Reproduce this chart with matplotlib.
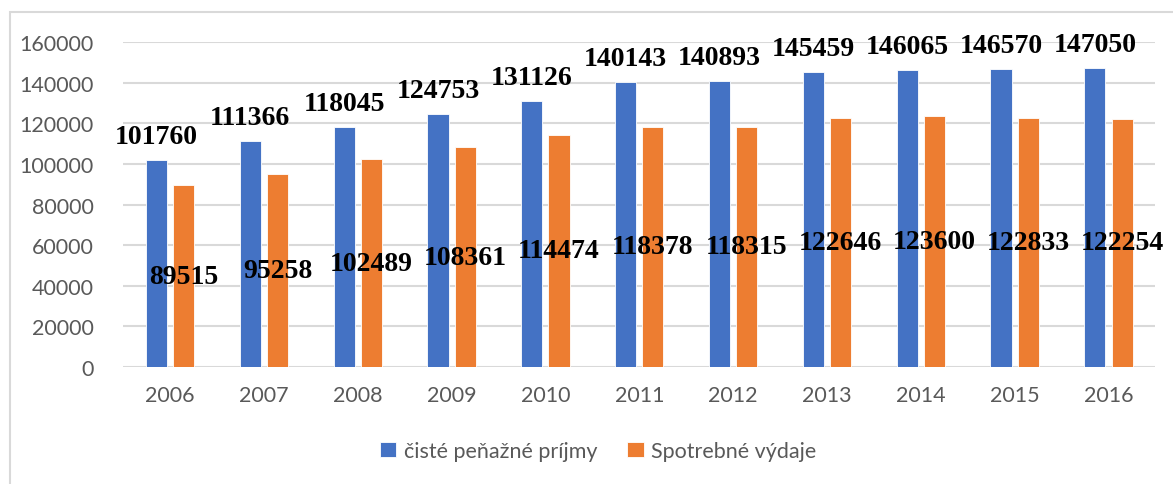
import numpy as np
import matplotlib.pyplot as plt
from matplotlib.patches import Rectangle

roky = ['2006', '2007', '2008', '2009', '2010', '2011', '2012', '2013', '2014', '2015', '2016']
prijmy = [101760, 111366, 118045, 124753, 131126, 140143, 140893, 145459, 146065, 146570, 147050]
vydaje = [89515, 95258, 102489, 108361, 114474, 118378, 118315, 122646, 123600, 122833, 122254]
yticky = [0, 20000, 40000, 60000, 80000, 100000, 120000, 140000, 160000]

modra = '#4472C4'
oranzova = '#ED7D31'
seda = '#595959'

fig = plt.figure(figsize=(11.73, 4.85), dpi=100)
ax = fig.add_axes([0.105, 0.241, 0.88, 0.670])

# ramik okolo grafu
fig.patches.append(Rectangle((10 / 1173, -0.05), 1.2, 1 - 13 / 485 + 0.05,
                             transform=fig.transFigure, fill=False,
                             edgecolor='#D9D9D9', linewidth=1.5))

x = np.arange(len(roky))
w = 0.225
b1 = ax.bar(x - 0.145, prijmy, w, color=modra, edgecolor='white', linewidth=0.6,
            label='čisté peňažné príjmy', zorder=3)
b2 = ax.bar(x + 0.145, vydaje, w, color=oranzova, edgecolor='white', linewidth=0.6,
            label='Spotrebné výdaje', zorder=3)

for xi, v in zip(x - 0.145, prijmy):
    ax.annotate(str(v), (xi, v), xytext=(0, 8), textcoords='offset points',
                ha='center', va='bottom', fontsize=20, fontweight='bold',
                family='Liberation Serif', color='black', zorder=5)
for xi, v in zip(x + 0.145, vydaje):
    ax.text(xi, v / 2, str(v), ha='center', va='center', fontsize=20,
            fontweight='bold', family='Liberation Serif', color='black', zorder=5)

ax.set_xlim(-0.5, len(roky) - 0.5)
ax.set_ylim(0, 160000)
ax.set_yticks(yticky)
ax.set_yticklabels([str(t) for t in yticky])
ax.set_xticks(x)
ax.set_xticklabels(roky)
ax.tick_params(axis='both', length=0, labelsize=15.5, labelcolor=seda)
ax.tick_params(axis='y', pad=21)
ax.tick_params(axis='x', pad=13)
for t in ax.get_xticklabels() + ax.get_yticklabels():
    t.set_family('Lato')
ax.grid(axis='y', color='#D9D9D9', linewidth=1.5, zorder=0)
for s in ax.spines.values():
    s.set_visible(False)

leg = fig.legend(loc='center', bbox_to_anchor=(0.51, 1 - 452 / 485), ncol=2,
                 frameon=False, handlelength=0.75, handleheight=0.75,
                 columnspacing=1.4, handletextpad=0.35,
                 prop={'family': 'Lato', 'size': 15.5})
for t in leg.get_texts():
    t.set_color(seda)

fig.savefig('out.png', dpi=100)
